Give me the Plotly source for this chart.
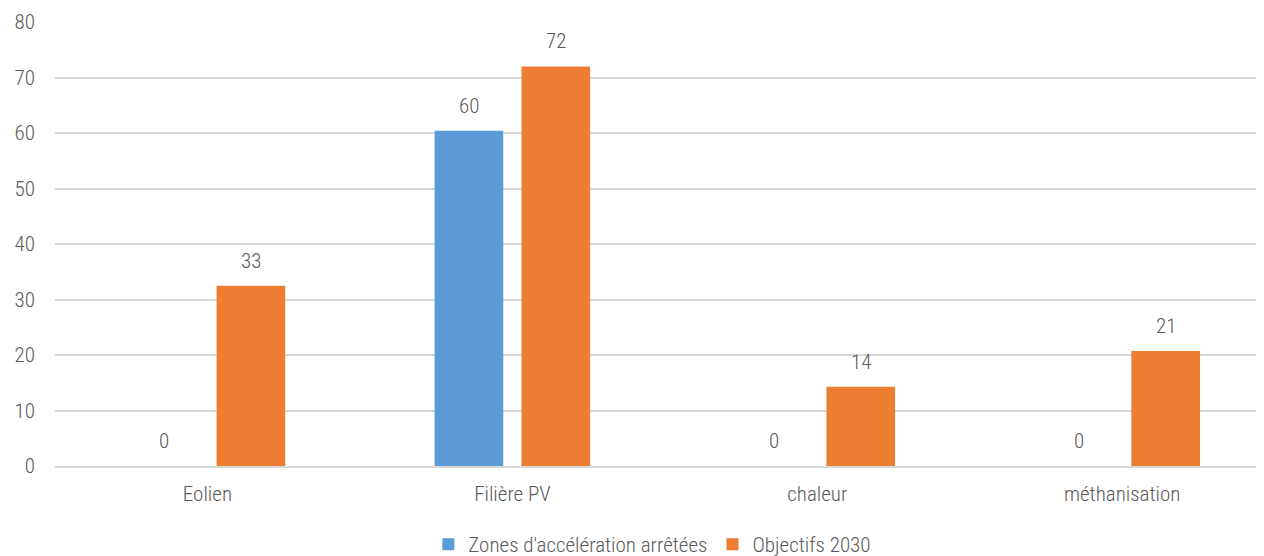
import math
import plotly.graph_objects as go

categories = ["Eolien", "Filière PV", "chaleur", "méthanisation"]
series_names = ["Zones d'accélération arrêtées", "Objectifs 2030"]
zones_values = [0, 60.4, 0, 0]
objectifs_values = [32.5, 72.0, 14.3, 20.7]
y_ticks = [0, 10, 20, 30, 40, 50, 60, 70, 80]

colors = ["#5B9BD5", "#ED7D31"]
FONT = "Liberation Sans Narrow, Roboto Condensed, Arial Narrow, sans-serif"
TXT = "#595959"
BARGAP = 0.43
GROUPGAP = 0.21

def fnt(size=21):
    return dict(family=FONT, size=size, color=TXT, weight=300)

fig = go.Figure()
all_series = [zones_values, objectifs_values]
for name, vals, col in zip(series_names, all_series, colors):
    fig.add_trace(go.Bar(x=categories, y=vals, name=name, marker_color=col,
                         marker_line_width=0))

offset = (1 - BARGAP) / 4
annotations = []
for s, vals in enumerate(all_series):
    sign = -1 if s == 0 else 1
    for i, v in enumerate(vals):
        annotations.append(dict(x=i + sign * offset, y=v, xref="x", yref="y",
                                text=str(int(math.floor(v + 0.5))), showarrow=False,
                                yanchor="middle", yshift=25, font=fnt()))

fig.update_layout(
    width=1256, height=548,
    margin=dict(l=47, r=0, t=14, b=90),
    paper_bgcolor="white", plot_bgcolor="white",
    barmode="group", bargap=BARGAP, bargroupgap=GROUPGAP,
    font=fnt(),
    annotations=annotations,
    showlegend=True,
    legend=dict(orientation="h", xref="container", yref="container",
                x=0.513, y=0.021, xanchor="center", yanchor="middle",
                font=fnt(), traceorder="normal"),
    xaxis=dict(range=[-0.5, 3.465], showgrid=False, showline=True,
               linecolor="#D9D9D9", linewidth=1.5, ticks="",
               ticklabelstandoff=8, tickfont=fnt()),
    yaxis=dict(range=[0, 80], tickvals=y_ticks, showgrid=True,
               gridcolor="#D9D9D9", gridwidth=1.5, zeroline=False,
               showline=False, ticks="", ticklabelstandoff=19,
               tickfont=fnt()),
)

fig.write_html("out.html")
